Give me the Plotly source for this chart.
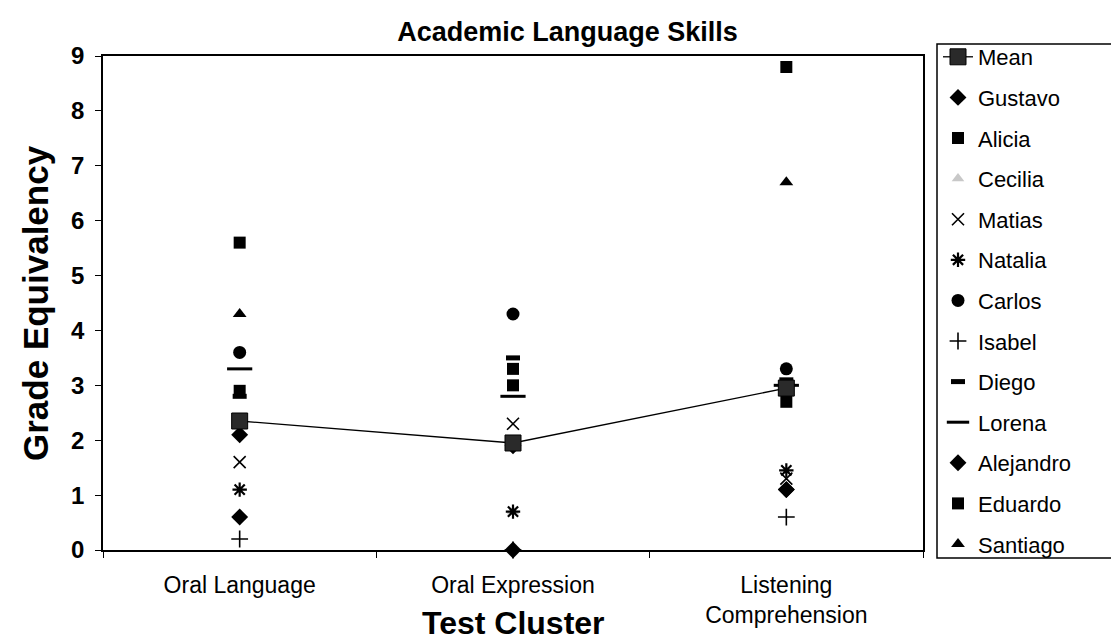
import plotly.graph_objects as go

categories = ["Oral Language", "Oral Expression", "Listening<br>Comprehension"]
mean = [2.35, 1.95, 2.95]
gustavo = [2.1, 0.0, 1.1]
alicia = [5.6, 3.3, 8.8]
cecilia = [0.6, 0.7, 3.0]
matias = [1.6, 2.3, 1.3]
natalia = [1.1, 0.7, 1.45]
carlos = [3.6, 4.3, 3.3]
isabel = [0.2, 0.0, 0.6]
diego = [2.8, 3.5, 3.1]
lorena = [3.3, 2.8, 3.0]
alejandro = [0.6, 1.9, 1.1]
eduardo = [2.9, 3.0, 2.7]
santiago = [4.3, 1.9, 6.7]

FONT = "Arial, Liberation Sans, sans-serif"

students = [
    ("Gustavo", gustavo, dict(symbol="diamond", size=13, color="black")),
    ("Alicia", alicia, dict(symbol="square", size=12, color="black")),
    ("Cecilia", cecilia, dict(symbol="triangle-up", size=11, color="#c8c8c8")),
    ("Matias", matias, dict(symbol="x-thin-open", size=12, color="black", line=dict(width=1.6, color="black"))),
    ("Natalia", natalia, dict(symbol="asterisk-open", size=12, color="black", line=dict(width=2.2, color="black"))),
    ("Carlos", carlos, dict(symbol="circle", size=13, color="black")),
    ("Isabel", isabel, dict(symbol="cross-thin-open", size=12, color="black", line=dict(width=1.6, color="black"))),
    ("Diego", diego, dict(symbol="line-ew-open", size=10, color="black", line=dict(width=5, color="black"))),
    ("Lorena", lorena, dict(symbol="line-ew-open", size=18, color="black", line=dict(width=3, color="black"))),
    ("Alejandro", alejandro, dict(symbol="diamond", size=13, color="black")),
    ("Eduardo", eduardo, dict(symbol="square", size=12, color="black")),
    ("Santiago", santiago, dict(symbol="triangle-up", size=12, color="black")),
]

fig = go.Figure()

for i, (name, vals, mk) in enumerate(students):
    fig.add_trace(go.Scatter(
        x=categories, y=vals, mode="markers", name=name, marker=mk,
        legendgroup=name, legendrank=10 + i, cliponaxis=False,
    ))

fig.add_trace(go.Scatter(
    x=categories, y=mean, mode="lines+markers", name="Mean",
    line=dict(color="black", width=1.3),
    marker=dict(symbol="square", size=16, color="#2a2a2a", line=dict(color="black", width=1)),
    legendgroup="Mean", legendrank=1, cliponaxis=False,
))

L, R, T, B = 95, 915, 48, 542
W, H = 1119, 640
ph = B - T
pw = R - L

fig.update_layout(
    width=W, height=H,
    margin=dict(l=L, r=W - R, t=T, b=H - B, autoexpand=False),
    paper_bgcolor="white", plot_bgcolor="white",
    font=dict(family=FONT, size=18, color="black"),
    title=dict(text="<b>Academic Language Skills</b>", x=0.5, xref="container", xanchor="center",
               y=1 - 24 / H, yref="container", yanchor="middle", font=dict(size=27, family=FONT)),
    showlegend=True,
    legend=dict(x=(930 - L) / pw, xanchor="left", y=(B - 28) / ph, yanchor="top",
                bgcolor="rgba(0,0,0,0)", borderwidth=0,
                font=dict(size=22, family=FONT), tracegroupgap=9,
                itemsizing="trace", maxheight=620),
    shapes=[dict(type="rect", xref="paper", yref="paper",
                 x0=(929 - L) / pw, x1=(1117 - L) / pw,
                 y0=(B - 550) / ph, y1=(B - 36) / ph,
                 line=dict(color="black", width=1.5))],
    annotations=[
        dict(text="<b>Test Cluster</b>", xref="paper", yref="paper",
             x=0.5, xanchor="center", y=(B - 635) / ph, yanchor="bottom",
             showarrow=False, font=dict(size=32, family=FONT)),
        dict(text="<b>Grade Equivalency</b>", xref="paper", yref="paper",
             x=(27 - L) / pw, xanchor="center", y=0.5, yanchor="middle",
             textangle=-90, showarrow=False, font=dict(size=35, family=FONT)),
    ],
)

fig.update_xaxes(
    type="category", range=[-0.5, 2.5],
    showline=True, linecolor="black", linewidth=1.5, mirror=True,
    ticks="outside", tickson="boundaries", ticklen=6, tickcolor="black",
    showgrid=False, zeroline=False, ticklabelstandoff=14,
    tickfont=dict(size=23, family=FONT),
)
fig.update_yaxes(
    range=[0, 9], dtick=1,
    showline=True, linecolor="black", linewidth=1.5, mirror=True,
    ticks="outside", ticklen=6, tickcolor="black",
    showgrid=False, zeroline=False, ticklabelstandoff=6,
    tickprefix="<b>", ticksuffix="</b>",
    tickfont=dict(size=24, family=FONT),
)

fig.write_html("out.html")
